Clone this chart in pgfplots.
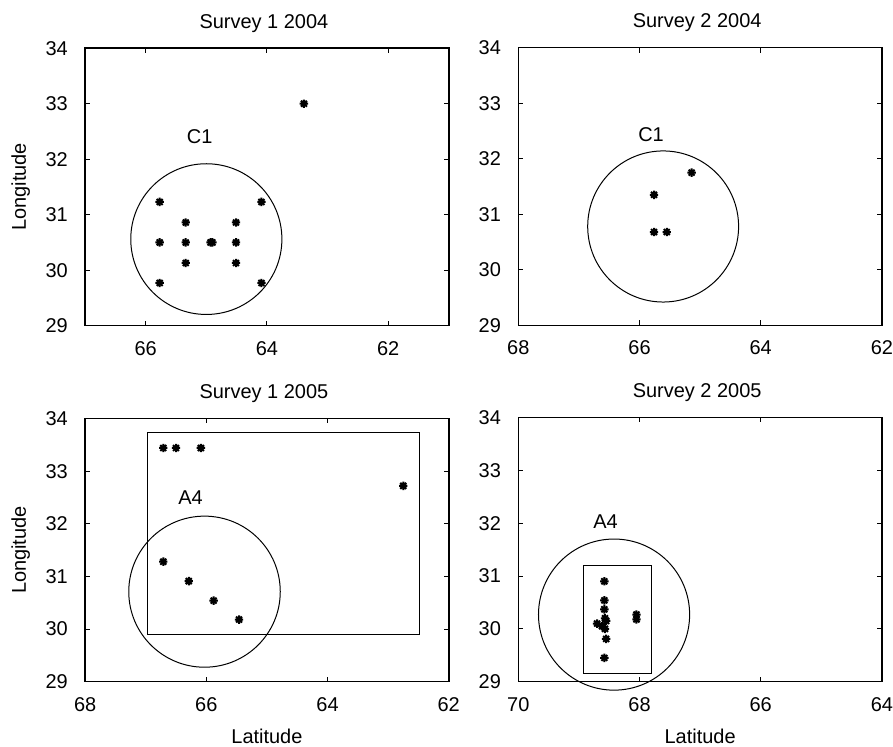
\documentclass[border=0pt]{standalone}
\usepackage{pgfplots}
\pgfplotsset{compat=1.18}
\usepackage{fontspec}
\setmainfont{Liberation Sans}
\tikzset{outl/.style={black, line width=0.5pt}}
\pgfdeclareplotmark{ast8}{%
 \pgfpathmoveto{\pgfqpoint{-\pgfplotmarksize}{0pt}}\pgfpathlineto{\pgfqpoint{\pgfplotmarksize}{0pt}}%
 \pgfpathmoveto{\pgfqpoint{0pt}{-\pgfplotmarksize}}\pgfpathlineto{\pgfqpoint{0pt}{\pgfplotmarksize}}%
 \pgfpathmoveto{\pgfqpoint{-0.707\pgfplotmarksize}{-0.707\pgfplotmarksize}}\pgfpathlineto{\pgfqpoint{0.707\pgfplotmarksize}{0.707\pgfplotmarksize}}%
 \pgfpathmoveto{\pgfqpoint{-0.707\pgfplotmarksize}{0.707\pgfplotmarksize}}\pgfpathlineto{\pgfqpoint{0.707\pgfplotmarksize}{-0.707\pgfplotmarksize}}%
 \pgfusepathqstroke}
\pgfplotsset{
  every axis title shift=0pt,
  myax/.style={
    scale only axis,
    width=182.15pt,
    x dir=reverse,
    ymin=29, ymax=34, ytick={29,30,31,32,33,34},
    tick align=inside,
    major tick length=2.5pt,
    tick style={line width=0.5pt, black},
    axis line style={line width=0.8pt, black},
    /pgf/number format/assume math mode=true,
    every tick label/.append style={font=\fontsize{10}{12}\selectfont, inner sep=0pt},
    xticklabel style={anchor=base, yshift=-14.8pt},
    yticklabel style={anchor=east, xshift=-8.5pt},
    title style={at={(0.5,1)}, anchor=base, yshift=10pt, xshift=-1.5pt, font=\fontsize{10}{12}\selectfont, inner sep=0pt},
    label style={font=\fontsize{10}{12}\selectfont, inner sep=0pt},
  },
  pts/.style={only marks, mark=ast8, mark size=2.1pt, mark options={line width=1pt, black}},
}
\begin{document}
\begin{tikzpicture}
% Panel 1
\begin{axis}[myax, at={(42.65pt,-24.15pt)}, anchor=north west, height=139pt,
  xmin=61, xmax=67, xtick={62,64,66},
  title={Survey 1 2004},
  ylabel={Longitude}, ylabel style={at={(axis description cs:-0.163,0.5)}, anchor=base}]
\addplot[pts] coordinates {
(63.39,33.00) (65.77,31.23) (64.09,31.23) (65.34,30.86) (64.51,30.86)
(65.77,30.50) (65.34,30.50) (64.93,30.50) (64.90,30.50) (64.51,30.50)
(65.34,30.13) (64.51,30.13) (65.77,29.77) (64.09,29.77)};
\draw[outl] (axis cs:65.00,30.56) ellipse [x radius=1.247, y radius=1.358];
\node[font=\fontsize{10}{12}\selectfont] at (axis cs:65.11,32.40) {C1};
\end{axis}
% Panel 2
\begin{axis}[myax, at={(259.65pt,-23.85pt)}, anchor=north west, height=139.15pt,
  xmin=62, xmax=68, xtick={62,64,66,68},
  title={Survey 2 2004}]
\addplot[pts] coordinates {
(65.14,31.75) (65.76,31.35) (65.76,30.68) (65.55,30.68)};
\draw[outl] (axis cs:65.61,30.78) ellipse [x radius=1.245, y radius=1.36];
\node[font=\fontsize{10}{12}\selectfont] at (axis cs:65.81,32.43) {C1};
\end{axis}
% Panel 3
\begin{axis}[myax, at={(42.65pt,-209.65pt)}, anchor=north west, height=131.85pt,
  xmin=62, xmax=68, xtick={62,64,66,68},
  title={Survey 1 2005},
  ylabel={Longitude}, ylabel style={at={(axis description cs:-0.163,0.5)}, anchor=base},
  xlabel={Latitude}, xlabel style={at={(axis description cs:0.5,-0.235)}, anchor=base}]
\addplot[pts] coordinates {
(66.71,33.44) (66.50,33.44) (66.09,33.44) (62.75,32.72)
(66.71,31.28) (66.29,30.91) (65.88,30.54) (65.46,30.18)};
\addplot[outl, no marks] coordinates {
(66.97,29.89) (62.49,29.89) (62.49,33.73) (66.97,33.73) (66.97,29.89)};
\draw[outl] (axis cs:66.03,30.71) ellipse [x radius=1.25, y radius=1.435];
\node[font=\fontsize{10}{12}\selectfont] at (axis cs:66.26,32.49) {A4};
\end{axis}
% Panel 4
\begin{axis}[myax, at={(259.65pt,-209.15pt)}, anchor=north west, height=132.35pt,
  xmin=64, xmax=70, xtick={64,66,68,70},
  title={Survey 2 2005}, clip mode=individual,
  xlabel={Latitude}, xlabel style={at={(axis description cs:0.5,-0.235)}, anchor=base}]
\addplot[pts] coordinates {
(68.58,30.90) (68.58,30.54) (68.58,30.37) (68.57,30.20) (68.55,30.15)
(68.70,30.10) (68.62,30.05) (68.57,30.00) (68.55,29.81) (68.58,29.45)
(68.05,30.27) (68.05,30.18)};
\addplot[outl, no marks] coordinates {
(68.93,29.16) (67.80,29.16) (67.80,31.19) (68.93,31.19) (68.93,29.16)};
\draw[outl] (axis cs:68.42,30.27) ellipse [x radius=1.247, y radius=1.43];
\node[font=\fontsize{10}{12}\selectfont] at (axis cs:68.56,32.03) {A4};
\end{axis}
\path (0pt,0pt) rectangle (446.5pt,-374pt);
\end{tikzpicture}
\end{document}
